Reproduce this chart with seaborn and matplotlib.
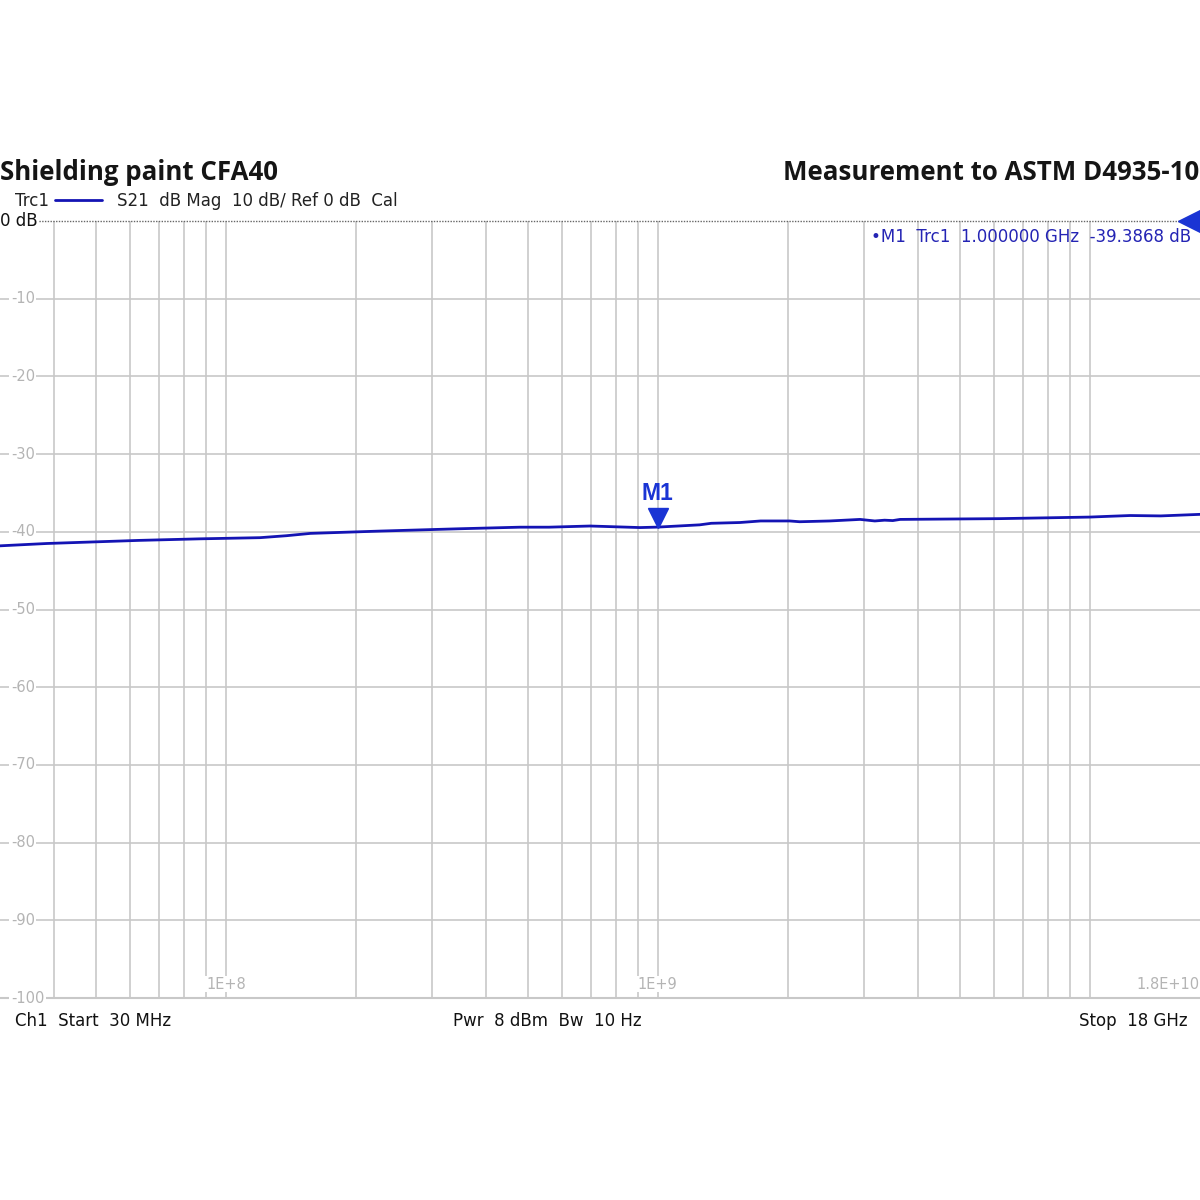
import numpy as np
import pandas as pd
import matplotlib
matplotlib.use("Agg")
import matplotlib.pyplot as plt
import matplotlib.transforms as mtransforms
from matplotlib.ticker import LogLocator, FixedLocator, NullFormatter
import seaborn as sns

# trace values
freq_hz = [30e6, 38.5e6, 63e6, 87e6, 120e6, 138e6, 157e6, 228e6, 349e6, 480e6,
           560e6, 697e6, 910e6, 1.0e9, 1.25e9, 1.33e9, 1.55e9, 1.73e9, 2.02e9,
           2.13e9, 2.5e9, 2.94e9, 3.18e9, 3.35e9, 3.5e9, 3.64e9, 6.2e9, 10e9,
           11.1e9, 12.4e9, 14.6e9, 18e9]
s21_db = [-41.8, -41.5, -41.1, -40.9, -40.75, -40.5, -40.2, -39.9, -39.6, -39.4,
          -39.4, -39.25, -39.45, -39.39, -39.1, -38.9, -38.8, -38.6, -38.6,
          -38.7, -38.6, -38.4, -38.6, -38.5, -38.55, -38.4, -38.3, -38.1,
          -38.0, -37.9, -37.95, -37.75]

y_ticks = [-10, -20, -30, -40, -50, -60, -70, -80, -90, -100]
x_labels = {1e8: "1E+8", 1e9: "1E+9"}

m1_freq = 1e9
m1_db = -39.3868

trace_col = "#1414b4"
marker_col = "#1a34d4"
grid_col = "#c8c8c8"
label_col = "#b4b4b4"

df = pd.DataFrame({"freq": freq_hz, "s21": s21_db})

sns.set_style("white")
plt.rcParams["font.family"] = ["DejaVu Sans"]

fig = plt.figure(figsize=(12, 12), dpi=100)
ax = fig.add_axes([0, 0.1683, 1, 0.6475])

sns.lineplot(data=df, x="freq", y="s21", ax=ax, color=trace_col, lw=2.0)

ax.set_xscale("log")
ax.set_xlim(30e6, 18e9)
ax.set_ylim(-100, 0)
# grid lines at 1..9 x decade, but not on the start/stop edges
grid_f = LogLocator(base=10, subs=np.arange(1, 10), numticks=50).tick_values(30e6, 18e9)
grid_f = [f for f in grid_f if 30e6 * 1.01 < f < 18e9 * 0.99]
ax.xaxis.set_major_locator(FixedLocator(grid_f))
ax.xaxis.set_minor_locator(FixedLocator([]))
ax.xaxis.set_major_formatter(NullFormatter())
ax.set_yticks(y_ticks)
ax.set_yticklabels([])
ax.tick_params(length=0)
ax.grid(True, color=grid_col, lw=1.2)
ax.set_xlabel("")
ax.set_ylabel("")
for s in ["left", "right", "top"]:
    ax.spines[s].set_visible(False)
ax.spines["bottom"].set_color(grid_col)
ax.spines["bottom"].set_linewidth(1.5)

# reference line at 0 dB
ax.axhline(0, color="#666666", lw=1.0, ls=(0, (1, 1)), clip_on=False)

# y labels inside the grid
trans_y = mtransforms.blended_transform_factory(ax.transAxes, ax.transData)
for v in y_ticks:
    ax.text(0.009, v, str(v), transform=trans_y, ha="left", va="center",
            fontsize=10.5, color=label_col,
            bbox=dict(facecolor="white", edgecolor="none", pad=1.0))

# x labels near the bottom
trans_x = mtransforms.blended_transform_factory(ax.transData, ax.transAxes)
for f, lab in x_labels.items():
    ax.text(f, 0.018, lab, transform=trans_x, ha="center", va="center",
            fontsize=10.5, color=label_col,
            bbox=dict(facecolor="white", edgecolor="none", pad=0.5))
ax.text(18e9, 0.018, "1.8E+10", transform=trans_x, ha="right", va="center",
        fontsize=10.5, color=label_col,
        bbox=dict(facecolor="white", edgecolor="none", pad=0.5))

ax.text(0, 0, "0 dB", transform=trans_y, ha="left", va="center",
        fontsize=12, color="#111111",
        bbox=dict(facecolor="white", edgecolor="none", pad=0.3))

# reference level arrow at the right edge
ax.plot([0.991], [0], transform=trans_y, marker="<", ms=16,
        color=marker_col, clip_on=False, zorder=5)

# M1 marker
tri_tr = mtransforms.offset_copy(ax.transData, fig=fig, x=0, y=9, units="dots")
ax.plot([m1_freq], [m1_db], transform=tri_tr, marker="v", ms=14,
        color=marker_col, zorder=5)
ax.annotate("M1", xy=(m1_freq, m1_db), xytext=(0, 16), textcoords="offset points",
            ha="center", va="bottom", fontsize=16.5, fontweight="bold",
            family="Liberation Sans", color=marker_col)

ax.text(0.993, 0.98, "\u2022M1  Trc1  1.000000 GHz  -39.3868 dB",
        transform=ax.transAxes, ha="right", va="center", fontsize=12,
        color="#2424b4")

# header
fig.text(0.0, 1 - 172 / 1200, "Shielding paint CFA40", ha="left", va="center",
         fontsize=18.6, fontweight="bold", family="Open Sans", color="#151515")
fig.text(0.999, 1 - 172 / 1200, "Measurement to ASTM D4935-10", ha="right",
         va="center", fontsize=18.6, fontweight="bold", family="Open Sans",
         color="#151515")
fig.text(15 / 1200, 1 - 201 / 1200, "Trc1", ha="left", va="center",
         fontsize=12, color="#222222")
fig.lines.append(plt.Line2D([55 / 1200, 102 / 1200], [1 - 200 / 1200, 1 - 200 / 1200],
                            transform=fig.transFigure, color=trace_col, lw=2))
fig.text(117 / 1200, 1 - 201 / 1200, "S21  dB Mag  10 dB/ Ref 0 dB  Cal",
         ha="left", va="center", fontsize=12, color="#222222")

# footer
foot_y = 1 - 1021 / 1200
fig.text(15 / 1200, foot_y, "Ch1  Start  30 MHz", ha="left", va="center",
         fontsize=12, color="#111111")
fig.text(547 / 1200, foot_y, "Pwr  8 dBm  Bw  10 Hz", ha="center", va="center",
         fontsize=12, color="#111111")
fig.text(1188 / 1200, foot_y, "Stop  18 GHz", ha="right", va="center",
         fontsize=12, color="#111111")

fig.savefig("out.png", dpi=100, facecolor="white")
